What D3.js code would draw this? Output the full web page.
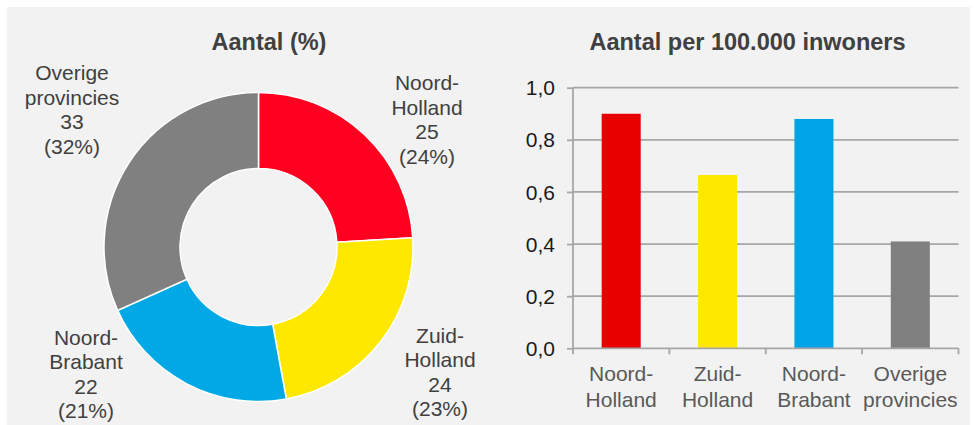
<!DOCTYPE html>
<html><head><meta charset="utf-8">
<script src="https://cdn.jsdelivr.net/npm/d3@7"></script>
<style>
html,body{margin:0;padding:0;background:#fff;}
svg{display:block;font-family:"Liberation Sans",Arial,sans-serif;}
</style></head>
<body>
<svg id="c" width="979" height="425"></svg>
<script>
// Data
const donutCategories = [["Noord-","Holland"],["Zuid-","Holland"],["Noord-","Brabant"],["Overige","provincies"]];
const donutCounts = [25, 24, 22, 33];
const donutPercents = ["24%","23%","21%","32%"];
const donutColors = ["#ff0020","#ffe800","#00a9e6","#808080"];

const barCategories = [["Noord-","Holland"],["Zuid-","Holland"],["Noord-","Brabant"],["Overige","provincies"]];
const barValues = [0.90, 0.665, 0.88, 0.41];
const barColors = ["#e80000","#ffe800","#00a3e6","#808080"];
const yTicks = [0, 0.2, 0.4, 0.6, 0.8, 1.0];

const titleLeft = "Aantal (%)";
const titleRight = "Aantal per 100.000 inwoners";

const svg = d3.select("#c");
svg.append("rect").attr("x",7).attr("y",7).attr("width",963).attr("height",418).attr("fill","#f2f2f2");

// Titles
svg.append("text").attr("x",269).attr("y",50).attr("text-anchor","middle")
  .attr("font-size",23.5).attr("font-weight","bold").attr("fill","#404040").text(titleLeft);
svg.append("text").attr("x",747.5).attr("y",50).attr("text-anchor","middle")
  .attr("font-size",23.5).attr("font-weight","bold").attr("fill","#404040").text(titleRight);

// Donut
const cx = 258.5, cy = 247, R = 154.5, r = 78.5;
const pie = d3.pie().sort(null).value(d => d)(donutCounts);
const arc = d3.arc().innerRadius(r).outerRadius(R);
const g = svg.append("g").attr("transform",`translate(${cx},${cy})`);
g.selectAll("path").data(pie).join("path")
  .attr("d",arc).attr("fill",(d,i)=>donutColors[i])
  .attr("stroke","#fff").attr("stroke-width",1.5);

// Donut labels (positions outside arcs)
const labelPos = [[427,90],[440,342.5],[86,344.5],[72,80]];
const lh = 24.5;
donutCategories.forEach((lines,i)=>{
  const t = svg.append("text").attr("text-anchor","middle").attr("font-size",21).attr("fill","#404040");
  const all = [lines[0], lines[1], String(donutCounts[i]), "(" + donutPercents[i] + ")"];
  all.forEach((s,j)=>{
    t.append("tspan").attr("x",labelPos[i][0]).attr("y",labelPos[i][1]+j*lh).text(s);
  });
});

// Bar chart
const x0 = 573, x1 = 958.5, yTop = 87.7, yBot = 348.3;
const x = d3.scaleBand().domain(d3.range(barValues.length)).range([x0,x1]).paddingInner(0.595).paddingOuter(0.2975);
const y = d3.scaleLinear().domain([0,1]).range([yBot,yTop]);

// gridlines
svg.append("g").selectAll("line").data(yTicks.slice(1)).join("line")
  .attr("x1",x0).attr("x2",x1).attr("y1",d=>y(d)).attr("y2",d=>y(d))
  .attr("stroke","#a6a6a6").attr("stroke-width",1.8);

// bars
svg.append("g").selectAll("rect").data(barValues).join("rect")
  .attr("x",(d,i)=>x(i)).attr("width",x.bandwidth())
  .attr("y",d=>y(d)).attr("height",d=>yBot-y(d))
  .attr("fill",(d,i)=>barColors[i]);

// y axis
const yAxis = d3.axisLeft(y).tickValues(yTicks).tickSize(6).tickPadding(12)
  .tickFormat(d=>d3.format(".1f")(d).replace(".",","));
const ya = svg.append("g").attr("transform",`translate(${x0},0)`).call(yAxis);
ya.selectAll("path,line").attr("stroke","#a6a6a6").attr("stroke-width",1.8);
ya.select(".domain").attr("d",`M0,${yTop}V${yBot}`);
ya.selectAll("text").attr("font-size",21).attr("fill","#1a1a1a")
  .attr("font-family","Liberation Sans, Arial, sans-serif").attr("dy","0.34em");

// x axis
const xa = svg.append("g");
xa.append("line").attr("x1",x0).attr("x2",x1).attr("y1",yBot).attr("y2",yBot)
  .attr("stroke","#a6a6a6").attr("stroke-width",1.8);
const step = x.step();
const bounds = d3.range(barValues.length+1).map(i => x0 + (x1-x0)*i/barValues.length);
xa.selectAll("line.t").data(bounds).join("line").attr("class","t")
  .attr("x1",d=>d).attr("x2",d=>d).attr("y1",yBot).attr("y2",yBot+6)
  .attr("stroke","#a6a6a6").attr("stroke-width",1.8);
barCategories.forEach((lines,i)=>{
  const t = xa.append("text").attr("text-anchor","middle").attr("font-size",21).attr("fill","#595959");
  lines.forEach((s,j)=>{
    t.append("tspan").attr("x",x(i)+x.bandwidth()/2).attr("y",381+j*25.5).text(s);
  });
});
</script>
</body></html>
